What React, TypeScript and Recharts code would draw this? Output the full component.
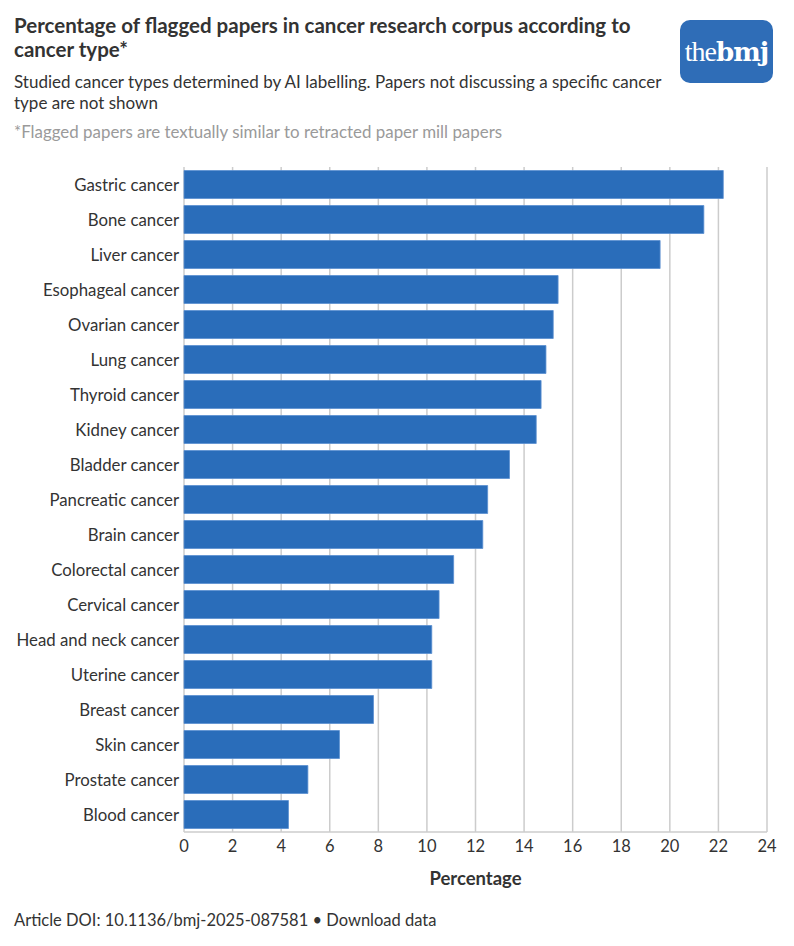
import React from "react";
import { BarChart, Bar, XAxis, YAxis, CartesianGrid } from "recharts";

const categories = [
  "Gastric cancer",
  "Bone cancer",
  "Liver cancer",
  "Esophageal cancer",
  "Ovarian cancer",
  "Lung cancer",
  "Thyroid cancer",
  "Kidney cancer",
  "Bladder cancer",
  "Pancreatic cancer",
  "Brain cancer",
  "Colorectal cancer",
  "Cervical cancer",
  "Head and neck cancer",
  "Uterine cancer",
  "Breast cancer",
  "Skin cancer",
  "Prostate cancer",
  "Blood cancer",
];

const percentages = [
  22.2, 21.4, 19.6, 15.4, 15.2, 14.9, 14.7, 14.5, 13.4, 12.5, 12.3, 11.1, 10.5,
  10.2, 10.2, 7.8, 6.4, 5.1, 4.3,
];

const xTicks = [0, 2, 4, 6, 8, 10, 12, 14, 16, 18, 20, 22, 24];

const data = categories.map((c, i) => ({ name: c, value: percentages[i] }));

const FONT = "Lato, 'Open Sans', sans-serif";
const BLUE = "#2a6dba";

export default function App() {
  return (
    <div
      style={{
        position: "absolute",
        left: 0,
        top: 0,
        width: 794,
        height: 946,
        background: "#fff",
        fontFamily: FONT,
        color: "#333",
      }}
    >
      <div
        style={{
          position: "absolute",
          left: 14,
          top: 13,
          width: 650,
          fontSize: 20.5,
          fontWeight: 700,
          lineHeight: "24px",
          color: "#333",
        }}
      >
        Percentage of flagged papers in cancer research corpus according to cancer type*
      </div>
      <div
        style={{
          position: "absolute",
          left: 14,
          top: 71,
          width: 660,
          fontSize: 17,
          lineHeight: "21px",
          color: "#333",
        }}
      >
        Studied cancer types determined by AI labelling. Papers not discussing a specific cancer type are not shown
      </div>
      <div
        style={{
          position: "absolute",
          left: 14,
          top: 121,
          fontSize: 16.9,
          lineHeight: "21px",
          color: "#9a9a9a",
        }}
      >
        *Flagged papers are textually similar to retracted paper mill papers
      </div>
      <div
        style={{
          position: "absolute",
          left: 680,
          top: 20,
          width: 93,
          height: 63,
          borderRadius: 10,
          background: "#2f6db7",
          color: "#fff",
          display: "flex",
          alignItems: "center",
          justifyContent: "center",
          fontFamily: "'DejaVu Serif', serif",
          fontSize: 26,
          letterSpacing: -1,
        }}
      >
        <span style={{ fontWeight: 300, fontFamily: "'Liberation Serif', serif", fontSize: 28 }}>the</span>
        <span style={{ fontWeight: 700 }}>bmj</span>
      </div>
      <div style={{ position: "absolute", left: 0, top: 0 }}>
        <BarChart
          width={794}
          height={946}
          data={data}
          layout="vertical"
          margin={{ top: 167, right: 27, bottom: 84, left: 0 }}
          barCategoryGap={3.5}
        >
          <CartesianGrid horizontal={false} stroke="#cccccc" strokeWidth={1.5} />
          <XAxis
            type="number"
            domain={[0, 24]}
            ticks={xTicks}
            interval={0}
            tickLine={false}
            axisLine={{ stroke: "#cccccc", strokeWidth: 1.5 }}
            tick={{ fill: "#333", fontSize: 16.5, fontFamily: FONT }}
            tickMargin={2}
            height={30}
          />
          <YAxis
            type="category"
            dataKey="name"
            width={184}
            tickLine={false}
            axisLine={false}
            tickSize={0}
            tickMargin={5}
            interval={0}
            tick={{ fill: "#333", fontSize: 16.8, fontFamily: FONT, dy: 1 }}
          />
          <Bar
            dataKey="value"
            fill={BLUE}
            stroke="#5b8fd0"
            strokeWidth={0.8}
            isAnimationActive={false}
          />
        </BarChart>
      </div>
      <div
        style={{
          position: "absolute",
          left: 0,
          width: 951,
          top: 867,
          textAlign: "center",
          fontSize: 18.5,
          fontWeight: 700,
          color: "#333",
        }}
      >
        Percentage
      </div>
      <div
        style={{
          position: "absolute",
          left: 14,
          top: 910,
          fontSize: 16.5,
          color: "#333",
        }}
      >
        Article DOI: 10.1136/bmj-2025-087581 • Download data
      </div>
    </div>
  );
}
